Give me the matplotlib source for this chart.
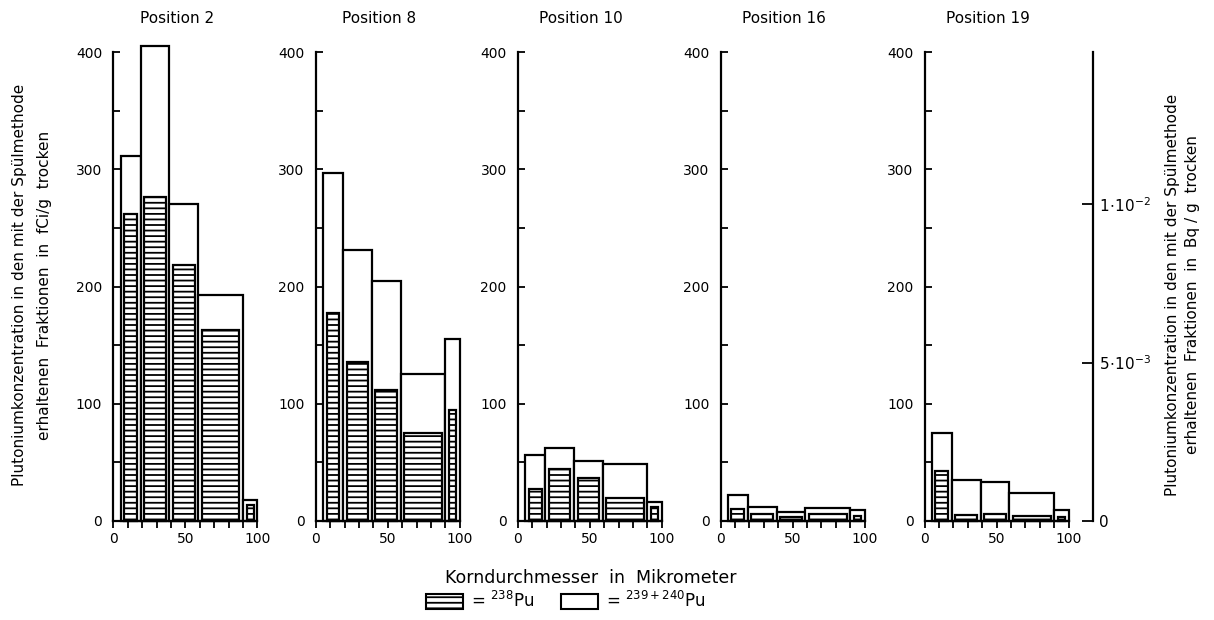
import matplotlib
matplotlib.use("Agg")
import matplotlib.pyplot as plt
from matplotlib.patches import Patch
from matplotlib.ticker import MultipleLocator

# grain size classes (micrometer) and concentrations in fCi/g dry
bin_edges = [5, 19, 39, 59, 90, 100]
positions = ["Position 2", "Position 8", "Position 10", "Position 16", "Position 19"]

pu239_pos2 = [311, 405, 270, 193, 18]
pu238_pos2 = [262, 276, 218, 163, 14]
pu239_pos8 = [297, 231, 205, 125, 155]
pu238_pos8 = [177, 136, 112, 75, 95]
pu239_pos10 = [56, 62, 51, 49, 16]
pu238_pos10 = [27, 44, 37, 20, 12]
pu239_pos16 = [22, 12, 8, 11, 9]
pu238_pos16 = [10, 6, 3, 6, 4]
pu239_pos19 = [75, 35, 33, 24, 9]
pu238_pos19 = [43, 5, 6, 4, 3]

pu239 = [pu239_pos2, pu239_pos8, pu239_pos10, pu239_pos16, pu239_pos19]
pu238 = [pu238_pos2, pu238_pos8, pu238_pos10, pu238_pos16, pu238_pos19]

fci_to_bq = 3.7e-5

plt.rcParams['font.family'] = ['DejaVu Sans']
plt.rcParams['mathtext.fontset'] = 'dejavusans'
plt.rcParams['hatch.linewidth'] = 1.3

fig = plt.figure(figsize=(12.14, 6.2), dpi=100)

W, H = 1214.0, 620.0
lefts = [113.3, 315.7, 517.8, 720.5, 924.5]
ax_w = 144.0
y0, y400 = 521.0, 52.0
inset = 2.5

lo = bin_edges[:-1]
widths = [b - a for a, b in zip(bin_edges[:-1], bin_edges[1:])]

for i, name in enumerate(positions):
    ax = fig.add_axes([lefts[i] / W, (H - y0) / H, ax_w / W, (y0 - y400) / H])
    ax.bar(lo, pu239[i], width=widths, align='edge', facecolor='white',
           edgecolor='black', linewidth=1.6, clip_on=False, zorder=2)
    ax.bar([a + inset for a in lo], pu238[i], width=[w - 2 * inset for w in widths],
           align='edge', facecolor='white', edgecolor='black', hatch='---',
           linewidth=1.6, clip_on=False, zorder=3)
    ax.set_xlim(0, 100)
    ax.set_ylim(0, 400)
    for s in ['top', 'right']:
        ax.spines[s].set_visible(False)
    for s in ['left', 'bottom']:
        ax.spines[s].set_linewidth(1.6)
        ax.spines[s].set_zorder(4)
    ax.xaxis.set_major_locator(MultipleLocator(50))
    ax.xaxis.set_minor_locator(MultipleLocator(10))
    ax.yaxis.set_major_locator(MultipleLocator(100))
    ax.yaxis.set_minor_locator(MultipleLocator(50))
    ax.tick_params(axis='x', which='both', direction='out', length=5, width=1.3,
                   labelsize=10, pad=3)
    ax.tick_params(axis='y', which='both', direction='in', length=5, width=1.3,
                   labelsize=10, pad=8)
    ax.text(0.44, 1.072, name, transform=ax.transAxes, ha='center', va='center',
            fontsize=11)

# second scale in Bq/g
axr = fig.add_axes([1093.3 / W, (H - y0) / H, 0.0001, (y0 - y400) / H])
axr.set_ylim(0, 400 * fci_to_bq)
axr.set_xticks([])
for s in ['top', 'left', 'bottom']:
    axr.spines[s].set_visible(False)
axr.spines['right'].set_linewidth(1.6)
axr.yaxis.tick_right()
axr.set_yticks([0, 5e-3, 1e-2])
axr.set_yticklabels(['0', r'$5\!\cdot\!10^{-3}$', r'$1\!\cdot\!10^{-2}$'])
axr.tick_params(axis='y', direction='in', length=8, width=1.3, labelsize=11, pad=4)

# axis labels
fig.text(20 / W, 0.54, "Plutoniumkonzentration in den mit der Spülmethode",
         rotation=90, ha='center', va='center', fontsize=11)
fig.text(45 / W, 0.54, "erhaltenen  Fraktionen  in  fCi/g  trocken",
         rotation=90, ha='center', va='center', fontsize=11)
fig.text(1172 / W, 0.525, "Plutoniumkonzentration in den mit der Spülmethode",
         rotation=90, ha='center', va='center', fontsize=11)
fig.text(1193 / W, 0.525, "erhaltenen  Fraktionen  in  Bq / g  trocken",
         rotation=90, ha='center', va='center', fontsize=11)
fig.text(591 / W, (H - 578) / H, "Korndurchmesser  in  Mikrometer",
         ha='center', va='center', fontsize=12.5)

handles = [Patch(facecolor='white', edgecolor='black', hatch='---', linewidth=1.5),
           Patch(facecolor='white', edgecolor='black', linewidth=1.5)]
fig.legend(handles, [r'= $^{238}$Pu', r'= $^{239+240}$Pu'], ncol=2, frameon=False,
           loc='center', bbox_to_anchor=(566 / W, (H - 601) / H), fontsize=12,
           handlelength=2.2, handleheight=1.0, columnspacing=1.6, handletextpad=0.5,
           borderpad=0.0)

fig.savefig("out.png", dpi=100)
